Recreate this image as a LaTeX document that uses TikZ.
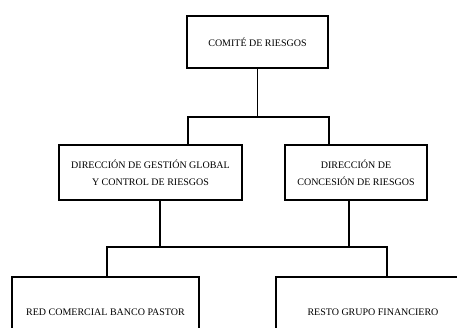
\documentclass[tikz,border=0pt]{standalone}
\usepackage{fontspec}
\setmainfont{Liberation Serif}
\usepackage{tikz}
\usetikzlibrary{positioning}

\begin{document}
\begin{tikzpicture}[
  x=1pt, y=-1pt,
  box/.style={rectangle, draw=black, line width=1.5pt, fill=white,
              align=center, font=\fontsize{10}{17}\selectfont, inner sep=0pt},
  ln/.style={draw=black, line width=1.5pt},
]
\useasboundingbox (0,0) rectangle (457,327);
\clip (0,0) rectangle (457,327);
% organigrama
\node[box, minimum width=141pt, minimum height=52pt] (comite) at (257.5,42) {COMITÉ DE RIESGOS};
\node[box, minimum width=183pt, minimum height=55pt] (dgg) at (150.5,172.5)
  {DIRECCIÓN DE GESTIÓN GLOBAL\\Y CONTROL DE RIESGOS};
\node[box, minimum width=142pt, minimum height=55pt] (dcr) at (356,172.5)
  {DIRECCIÓN DE\\CONCESIÓN DE RIESGOS};
\node[box, minimum width=187pt, minimum height=71pt] (red) at (105.5,312.5) {RED COMERCIAL BANCO PASTOR};
\node[box, minimum width=194pt, minimum height=71pt] (resto) at (373,312.5) {RESTO GRUPO FINANCIERO};
\coordinate (b1l) at (188,117);
\coordinate (b1r) at (329,117);
\coordinate (t2l) at (160,247);
\coordinate (t2r) at (349,247);
\coordinate (b2l) at (107,247);
\coordinate (b2r) at (387,247);
\draw[ln] (comite.south) -- (comite.south |- b1l);
\draw[ln] (dgg.north -| b1l) -- (b1l) -- (b1r) -- (dcr.north -| b1r);
\draw[ln] (dgg.south -| t2l) -- (t2l);
\draw[ln] (dcr.south -| t2r) -- (t2r);
\draw[ln] (red.north -| b2l) -- (b2l) -- (b2r) -- (resto.north -| b2r);
\end{tikzpicture}
\end{document}
